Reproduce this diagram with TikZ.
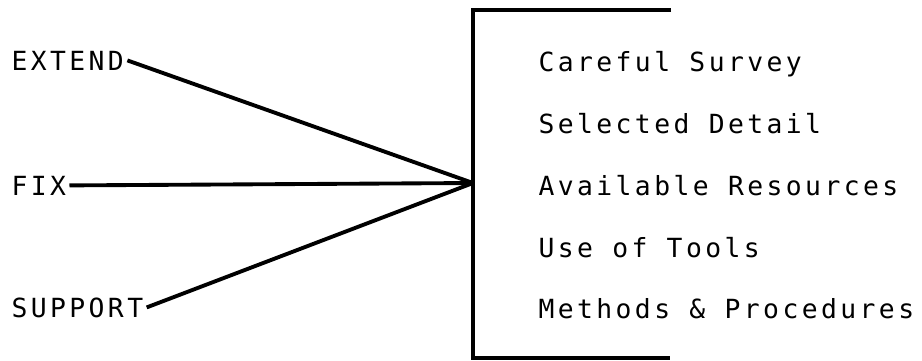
\documentclass[tikz,border=0pt]{standalone}
\usepackage{fontspec}
\newfontfamily\plotfont[LetterSpace=13]{DejaVu Sans Mono}
\usetikzlibrary{positioning}

\begin{document}
\begin{tikzpicture}[
        word/.style={inner sep=0pt, outer sep=1pt, anchor=base west,
                     font=\plotfont\fontsize{7.5}{9}\selectfont},
        link/.style={line width=1.1pt},
        bracket/.style={line width=1.1pt},
      ]
        \useasboundingbox (0,0) rectangle (9.22,3.60);

        % three verbs on the left
        \node[word] (extend) at (0.08,2.90) {EXTEND};
        \node[word] (fix) at (0.08,1.65) {FIX};
        \node[word] (support) at (0.08,0.43) {SUPPORT};

        % the open box with its list
        \coordinate (hub) at (4.73,1.77);
        \coordinate (top) at (4.73,3.50);
        \coordinate (bot) at (4.73,0.02);
        \draw[bracket] (6.71,3.50) -- (top) -- (bot) -- (6.70,0.02);

        \node[word] (survey) at (5.35,2.89) {Careful Survey};
        \node[word] (detail) at (5.35,2.27) {Selected Detail};
        \node[word] (resources) at (5.35,1.65) {Available Resources};
        \node[word] (tools) at (5.35,1.03) {Use of Tools};
        \node[word] (methods) at (5.35,0.42) {Methods \& Procedures};

        \draw[link] (extend.east) -- (hub);
        \draw[link] (fix.east) -- (hub);
        \draw[link] (support.east) -- (hub);
      \end{tikzpicture}
\end{document}
